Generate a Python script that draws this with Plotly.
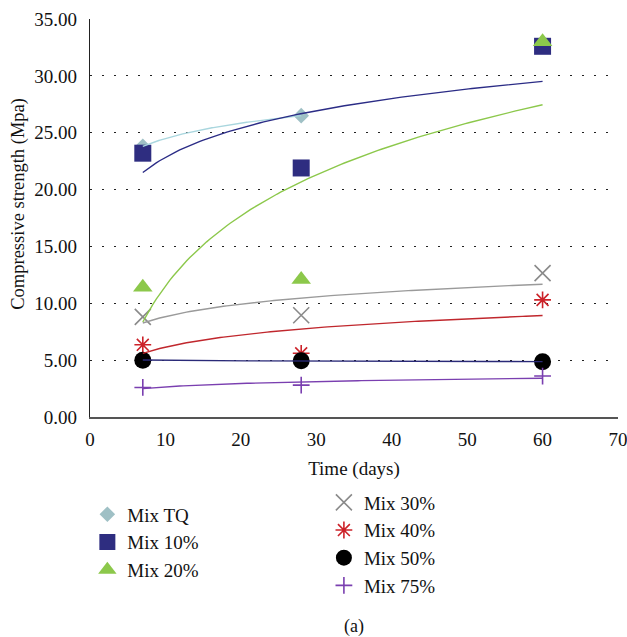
import numpy as np
import plotly.graph_objects as go

# ---- data ----
days = [7, 28, 60]
mix_tq = [23.8, 26.5]          # only 7 and 28 days
mix_10 = [23.2, 21.9, 32.6]
mix_20 = [11.4, 12.1, 33.0]
mix_30 = [8.8, 8.95, 12.65]
mix_40 = [6.35, 5.6, 10.3]
mix_50 = [5.0, 4.95, 4.85]
mix_75 = [2.6, 2.8, 3.6]

series_names = ["Mix TQ", "Mix 10%", "Mix 20%", "Mix 30%", "Mix 40%", "Mix 50%", "Mix 75%"]
x_ticks = [0, 10, 20, 30, 40, 50, 60, 70]
y_ticks = [0, 5, 10, 15, 20, 25, 30, 35]

series = [
    (series_names[0], days[:2], mix_tq, dict(symbol="diamond", size=12, color="#9fc0c5"), "#a9d6de", "legend"),
    (series_names[1], days, mix_10, dict(symbol="square", size=17, color="#2e2d80"), "#2b2c86", "legend"),
    (series_names[2], days, mix_20, dict(symbol="triangle-up", size=17, color="#8cc84b"), "#8cc84b", "legend"),
    (series_names[3], days, mix_30, dict(symbol="x-thin-open", size=16, color="#8a8a8a", line=dict(width=1.6, color="#8a8a8a")), "#9a9a9a", "legend2"),
    (series_names[4], days, mix_40, dict(symbol="asterisk-open", size=14, color="#cc2229", line=dict(width=1.6, color="#cc2229")), "#c0272d", "legend2"),
    (series_names[5], days, mix_50, dict(symbol="circle", size=17, color="#000000"), "#2a2a78", "legend2"),
    (series_names[6], days, mix_75, dict(symbol="cross-thin-open", size=12, color="#7a3fb0", line=dict(width=1.6, color="#7a3fb0")), "#7a3fb0", "legend2"),
]

fig = go.Figure()

# markers
for name, xs, ys, mk, lc, lg in series:
    fig.add_trace(go.Scatter(x=xs, y=ys, mode="markers", name=name, marker=mk,
                             legend=lg, showlegend=True))

# logarithmic trendlines (least squares fit y = a ln x + b)
for name, xs, ys, mk, lc, lg in series:
    a, b = np.polyfit(np.log(xs), ys, 1)
    xt = np.linspace(min(xs), max(xs), 120)
    fig.add_trace(go.Scatter(x=xt, y=a * np.log(xt) + b, mode="lines",
                             line=dict(color=lc, width=1.4), showlegend=False,
                             hoverinfo="skip"))

font_family = "Liberation Serif"

fig.update_layout(
    width=627, height=637,
    margin=dict(l=90, r=9, t=19, b=220),
    paper_bgcolor="white", plot_bgcolor="white",
    font=dict(family=font_family, size=19, color="#111111"),
    showlegend=True,
    legend=dict(x=-0.005, y=-0.197, xanchor="left", yanchor="top",
                bgcolor="rgba(0,0,0,0)", font=dict(size=19), tracegroupgap=0),
    legend2=dict(x=0.443, y=-0.167, xanchor="left", yanchor="top",
                 bgcolor="rgba(0,0,0,0)", font=dict(size=19), tracegroupgap=0),
    annotations=[
        dict(text="(a)", x=0.5, y=-0.558, xref="paper", yref="paper",
             showarrow=False, font=dict(size=18)),
        dict(text="Compressive strength (Mpa)", textangle=-90,
             x=-0.137, xref="paper", xanchor="center",
             y=0.535, yref="paper", yanchor="middle",
             showarrow=False, font=dict(size=18.5)),
    ],
)

fig.update_xaxes(
    range=[0, 70], tickvals=x_ticks, ticktext=[str(v) for v in x_ticks],
    showgrid=False, zeroline=False, showline=True, linecolor="#555555", linewidth=1.5,
    ticks="", automargin=False, ticklabelstandoff=4, ticklabeloverflow="allow",
    title=dict(text="Time (days)", standoff=13, font=dict(size=19)),
)
fig.update_yaxes(
    range=[0, 35], tickvals=y_ticks, tickformat=".2f",
    showgrid=True, gridcolor="#222222", gridwidth=1, griddash="2px,10px",
    zeroline=False, showline=True, linecolor="#222222", linewidth=1.2,
    ticks="", ticklabelstandoff=8, automargin=False,
)

fig.write_html("out.html")
